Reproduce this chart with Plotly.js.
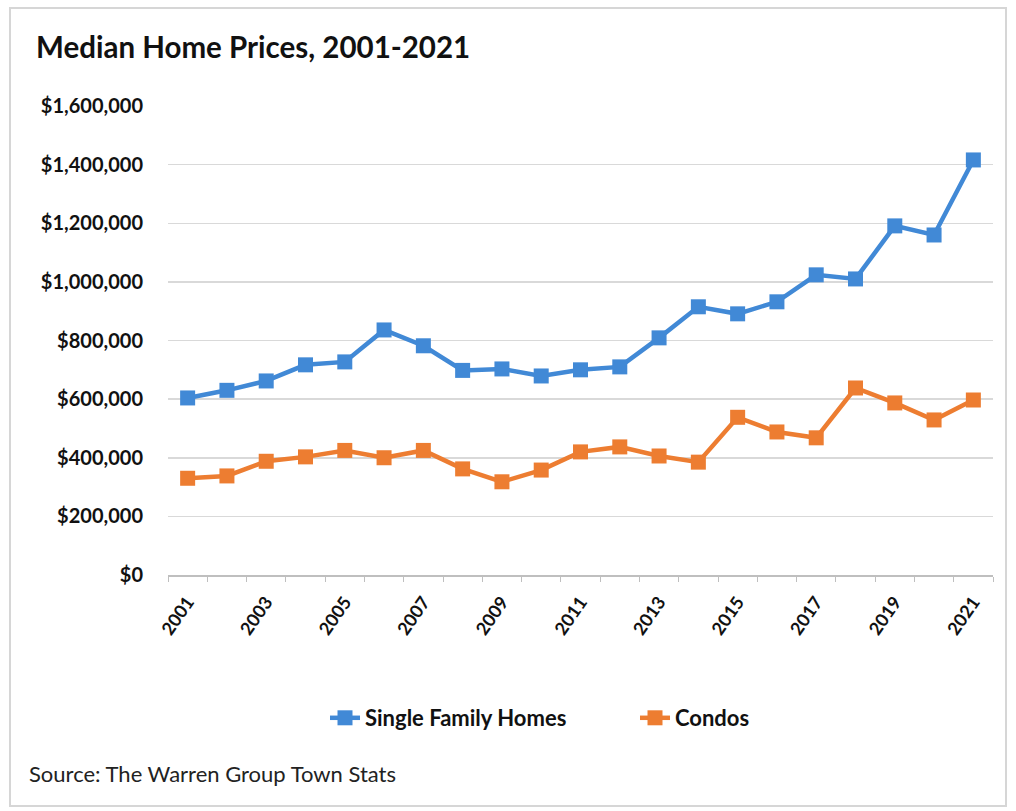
<!DOCTYPE html>
<html>
<head>
<meta charset="utf-8">
<script src="https://cdn.plot.ly/plotly-3.0.1.min.js"></script>
<style>html,body{margin:0;padding:0;background:#fff;}#chart{width:1016px;height:811px;}</style>
</head>
<body>
<div id="chart"></div>
<script>
var years = [2001,2002,2003,2004,2005,2006,2007,2008,2009,2010,2011,2012,2013,2014,2015,2016,2017,2018,2019,2020,2021];
var singleFamily = [604000,630000,662000,717000,727000,836000,782000,698000,703000,679000,700000,710000,809000,915000,891000,932000,1024000,1010000,1191000,1160000,1416000];
var condos = [330000,338000,388000,403000,425000,400000,425000,362000,318000,358000,420000,437000,406000,385000,538000,488000,468000,638000,587000,529000,597000];
var xTickLabels = [2001,2003,2005,2007,2009,2011,2013,2015,2017,2019,2021];
var yTicks = [0,200000,400000,600000,800000,1000000,1200000,1400000,1600000];
var yTickLabels = ['$0','$200,000','$400,000','$600,000','$800,000','$1,000,000','$1,200,000','$1,400,000','$1,600,000'];

var fontFam = 'Lato, "Open Sans", sans-serif';
var traces = [
  {x: years, y: singleFamily, name: 'Single Family Homes', type: 'scatter', mode: 'lines+markers',
   line: {color: '#4189d6', width: 4.5}, marker: {symbol: 'square', size: 15, color: '#4189d6'}},
  {x: years, y: condos, name: 'Condos', type: 'scatter', mode: 'lines+markers',
   line: {color: '#ed7d31', width: 4.5}, marker: {symbol: 'square', size: 15, color: '#ed7d31'}}
];

var layout = {
  width: 1016, height: 811,
  paper_bgcolor: '#ffffff', plot_bgcolor: '#ffffff',
  margin: {l: 168, r: 23, t: 106, b: 236},
  font: {family: fontFam, color: '#000'},
  title: {text: '<b>Median Home Prices, 2001-2021</b>', x: 36/1016, xanchor: 'left', xref: 'container',
          y: 1 - 48/811, yanchor: 'middle', yref: 'container', font: {size: 29.5, family: fontFam, color: '#111'}},
  showlegend: true,
  legend: {orientation: 'h', x: (325-168)/825, xanchor: 'left', y: (575-718)/469, yanchor: 'middle',
           entrywidth: 265, entrywidthmode: 'pixels',
           font: {size: 22, family: fontFam, color: '#111', weight: 'bold'}, traceorder: 'normal'},
  xaxis: {
    range: [2000.5, 2021.5], tickmode: 'array', tickvals: xTickLabels, ticktext: xTickLabels.map(String),
    tickangle: -55, tickfont: {size: 18, family: fontFam, color: '#111', weight: 'bold'},
    showgrid: false, zeroline: false, showline: true, linecolor: '#bfbfbf', linewidth: 1.5,
    ticks: 'outside', ticklen: 8, tickcolor: 'rgba(0,0,0,0)',
    minor: {tickmode: 'linear', tick0: 2000.5, dtick: 1, ticks: 'outside', ticklen: 5, tickcolor: '#bfbfbf', showgrid: false}
  },
  yaxis: {
    range: [0, 1600000], tickmode: 'array', tickvals: yTicks, ticktext: yTickLabels,
    tickfont: {size: 20, family: fontFam, color: '#111', weight: 'bold'},
    showgrid: true, gridcolor: '#d9d9d9', gridwidth: 1.5, zeroline: false, showline: false,
    ticks: 'outside', ticklen: 20, tickcolor: 'rgba(0,0,0,0)'
  },
  annotations: [
    {text: 'Source: The Warren Group Town Stats', xref: 'paper', yref: 'paper', x: (27-168)/825, y: (575-773)/469,
     xanchor: 'left', yanchor: 'middle', showarrow: false, font: {size: 22, family: fontFam, color: '#222'}}
  ],
  shapes: [
    {type: 'rect', xref: 'paper', yref: 'paper', x0: (10-168)/825, x1: (1006-168)/825, y0: (575-806)/469, y1: (575-8)/469,
     line: {color: '#d6d6d6', width: 2}, fillcolor: 'rgba(0,0,0,0)', layer: 'below'}
  ]
};

Plotly.newPlot('chart', traces, layout, {displayModeBar: false, staticPlot: true});
</script>
</body>
</html>
